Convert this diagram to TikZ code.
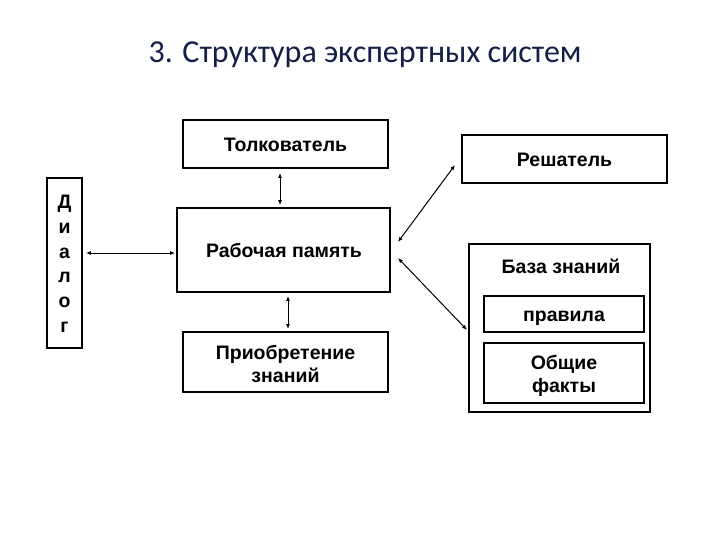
\documentclass[tikz,border=0pt]{standalone}
\usepackage{fontspec}
\setmainfont{Liberation Sans}
\newfontfamily\titlefont{Carlito}
\usetikzlibrary{arrows.meta,calc}
\definecolor{titleblue}{RGB}{20,30,70}
\begin{document}
\begin{tikzpicture}[x=1pt,y=-1pt,
  blk/.style={draw=black,line width=1.8pt,fill=white,inner sep=0pt},
  inblk/.style={blk,line width=1.4pt},
  txt/.style={inner sep=0pt,anchor=base,font=\fontsize{19.5}{24}\selectfont\bfseries},
  conn/.style={line width=1pt,{Latex[length=5pt,width=4pt]}-{Latex[length=5pt,width=4pt]}}]
\useasboundingbox (0,0) rectangle (720,540);
\node[font=\titlefont\fontsize{32}{36}\selectfont,text=titleblue] (title) at (365,55) {3. Структура экспертных систем};
% boxes
\node[blk,minimum width=205pt,minimum height=48pt] (tolk) at (285.5,144) {};
\node[blk,minimum width=205pt,minimum height=48pt] (resh) at (564.5,159) {};
\node[blk,minimum width=213pt,minimum height=84pt] (rab) at (283.5,250) {};
\node[blk,minimum width=35pt,minimum height=170pt] (dial) at (64.5,263) {};
\node[blk,minimum width=205pt,minimum height=60pt] (acq) at (285.5,362) {};
\node[blk,minimum width=181pt,minimum height=168pt] (base) at (559.5,328) {};
\node[inblk,minimum width=160pt,minimum height=36pt] (rules) at (564,314) {};
\node[inblk,minimum width=160pt,minimum height=60pt] (facts) at (564,373) {};
% texts
\node[txt] (tolkT) at (285.5,152) {Толкователь};
\node[txt] (reshT) at (564.5,167) {Решатель};
\node[txt] (rabT) at (284,258) {Рабочая память};
\node[txt] (acqT1) at (285.5,359) {Приобретение};
\node[txt] (acqT2) at (285.5,382) {знаний};
\node[txt] (baseT) at (561,273) {База знаний};
\node[txt] (rulesT) at (564,321) {правила};
\node[txt] (factsT1) at (564,369) {Общие};
\node[txt] (factsT2) at (564,392) {факты};
\foreach \ch [count=\i from 0] in {Д,и,а,л,о,г}
  \node[txt] (dialT\i) at (64.5,209+24.6*\i) {\ch};
% connector end points
\coordinate (d1) at ($(dial.east |- 0,253)+(3,0)$);
\coordinate (d2) at ($(rab.west |- 0,253)+(-1,0)$);
\coordinate (t1) at ($(tolk.south -| 280,0)+(0,4)$);
\coordinate (t2) at ($(rab.north -| 280,0)+(0,-2)$);
\coordinate (a1) at ($(rab.south -| 288,0)+(0,3)$);
\coordinate (a2) at ($(acq.north -| 288,0)+(0,-2)$);
\coordinate (r1) at (398,242);
\coordinate (r2) at (398,258);
\coordinate (s1) at (455,165);
\coordinate (b1) at (467,330);
\draw[conn] (d1) -- (d2);
\draw[conn] (t1) -- (t2);
\draw[conn] (a1) -- (a2);
\draw[conn] (s1) -- (r1);
\draw[conn] (r2) -- (b1);
\end{tikzpicture}
\end{document}
